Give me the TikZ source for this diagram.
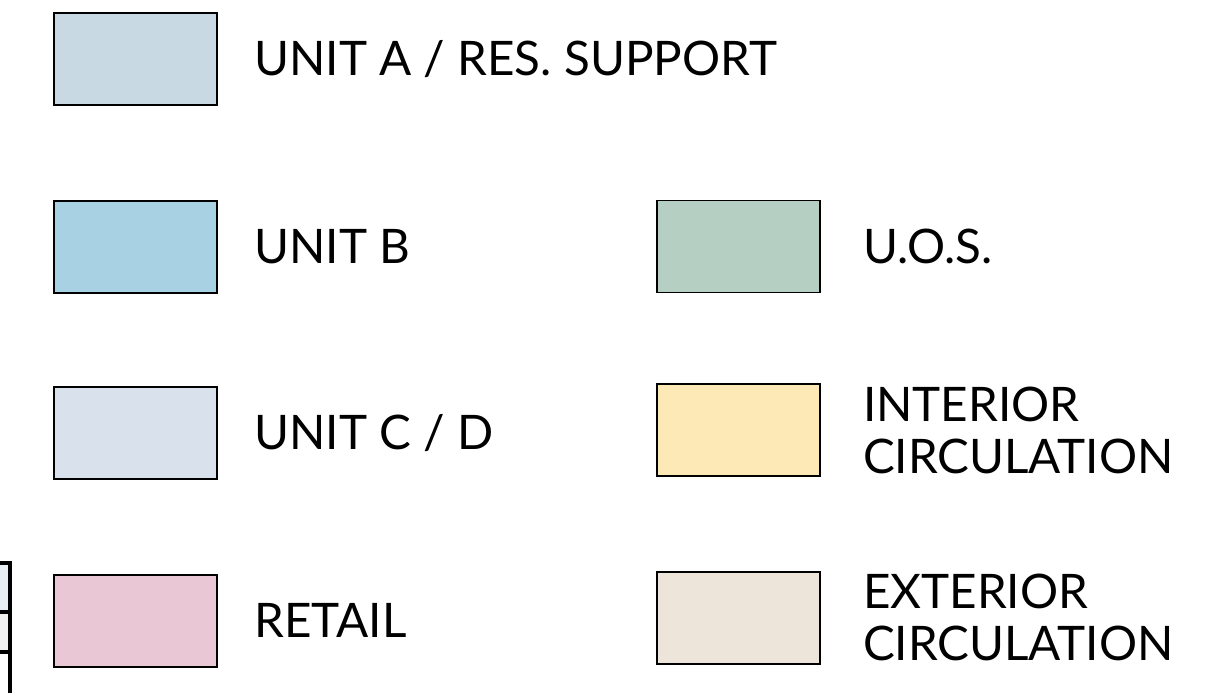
\documentclass[tikz,border=0pt]{standalone}
\usepackage{fontspec}
\setmainfont{Lato}
\usepackage{tikz}
\usetikzlibrary{positioning}
\definecolor{Lunita}{HTML}{C8D9E3}
\definecolor{Lunitb}{HTML}{A8D1E3}
\definecolor{Lunitcd}{HTML}{D9E2EC}
\definecolor{Lretail}{HTML}{EAC7D5}
\definecolor{Luos}{HTML}{B5D0C2}
\definecolor{Linterior}{HTML}{FDE9B5}
\definecolor{Lexterior}{HTML}{EDE5D9}

\begin{document}
\begin{tikzpicture}[
  x=0.5pt, y=-0.5pt,
  swatch/.style={draw=black, line width=1pt, inner sep=0pt, minimum width=81.5pt, minimum height=46pt},
  lab/.style={font=\fontsize{23.8}{26}\selectfont, inner sep=0pt, anchor=base west, yshift=-8.6pt},
  lab2/.style={font=\fontsize{23.8}{26}\selectfont, inner sep=0pt, align=left, anchor=west},
]
\useasboundingbox (0,0) rectangle (1210,693);

% ── left column ──────────────────────────────────────────────────────
\node[swatch, fill=Lunita] (ua) at (135.5,58.5) {};
\node[swatch, fill=Lunitb, below=47pt of ua] (ub) {};
\node[swatch, fill=Lunitcd, below=46pt of ub] (ucd) {};
\node[swatch, fill=Lretail, below=47pt of ucd] (rt) {};

\node[right=18pt of ua, lab] (ua-l) {UNIT A / RES. SUPPORT};
\node[right=18pt of ub, lab] (ub-l) {UNIT B};
\node[right=18pt of ucd, lab] (ucd-l) {UNIT C / D};
\node[right=18pt of rt, lab] (rt-l) {RETAIL};

% ── right column ─────────────────────────────────────────────────────
\node[swatch, fill=Luos, line width=0.8pt, right=219pt of ub] (uos) {};
\node[swatch, fill=Linterior, line width=0.8pt, below=45pt of uos] (ic) {};
\node[swatch, fill=Lexterior, line width=0.8pt, below=47pt of ic] (ec) {};

\node[right=21pt of uos, lab] (uos-l) {U.O.S.};
\node[right=21pt of ic, lab2] (ic-l) {INTERIOR\\CIRCULATION};
\node[right=21pt of ec, lab2] (ec-l) {EXTERIOR\\CIRCULATION};

% ── cropped edge at left ─────────────────────────────────────────────
\fill[Lunitcd!60] (0,563) rectangle (10,612);
\fill[black!6] (0,612) rectangle (10,652);
\draw[line width=2pt] (0,563) -- (10,563) -- (10,693);
\draw[line width=2pt] (0,612) -- (10,612);
\draw[line width=2pt] (0,652) -- (10,652);

\end{tikzpicture}
\end{document}
